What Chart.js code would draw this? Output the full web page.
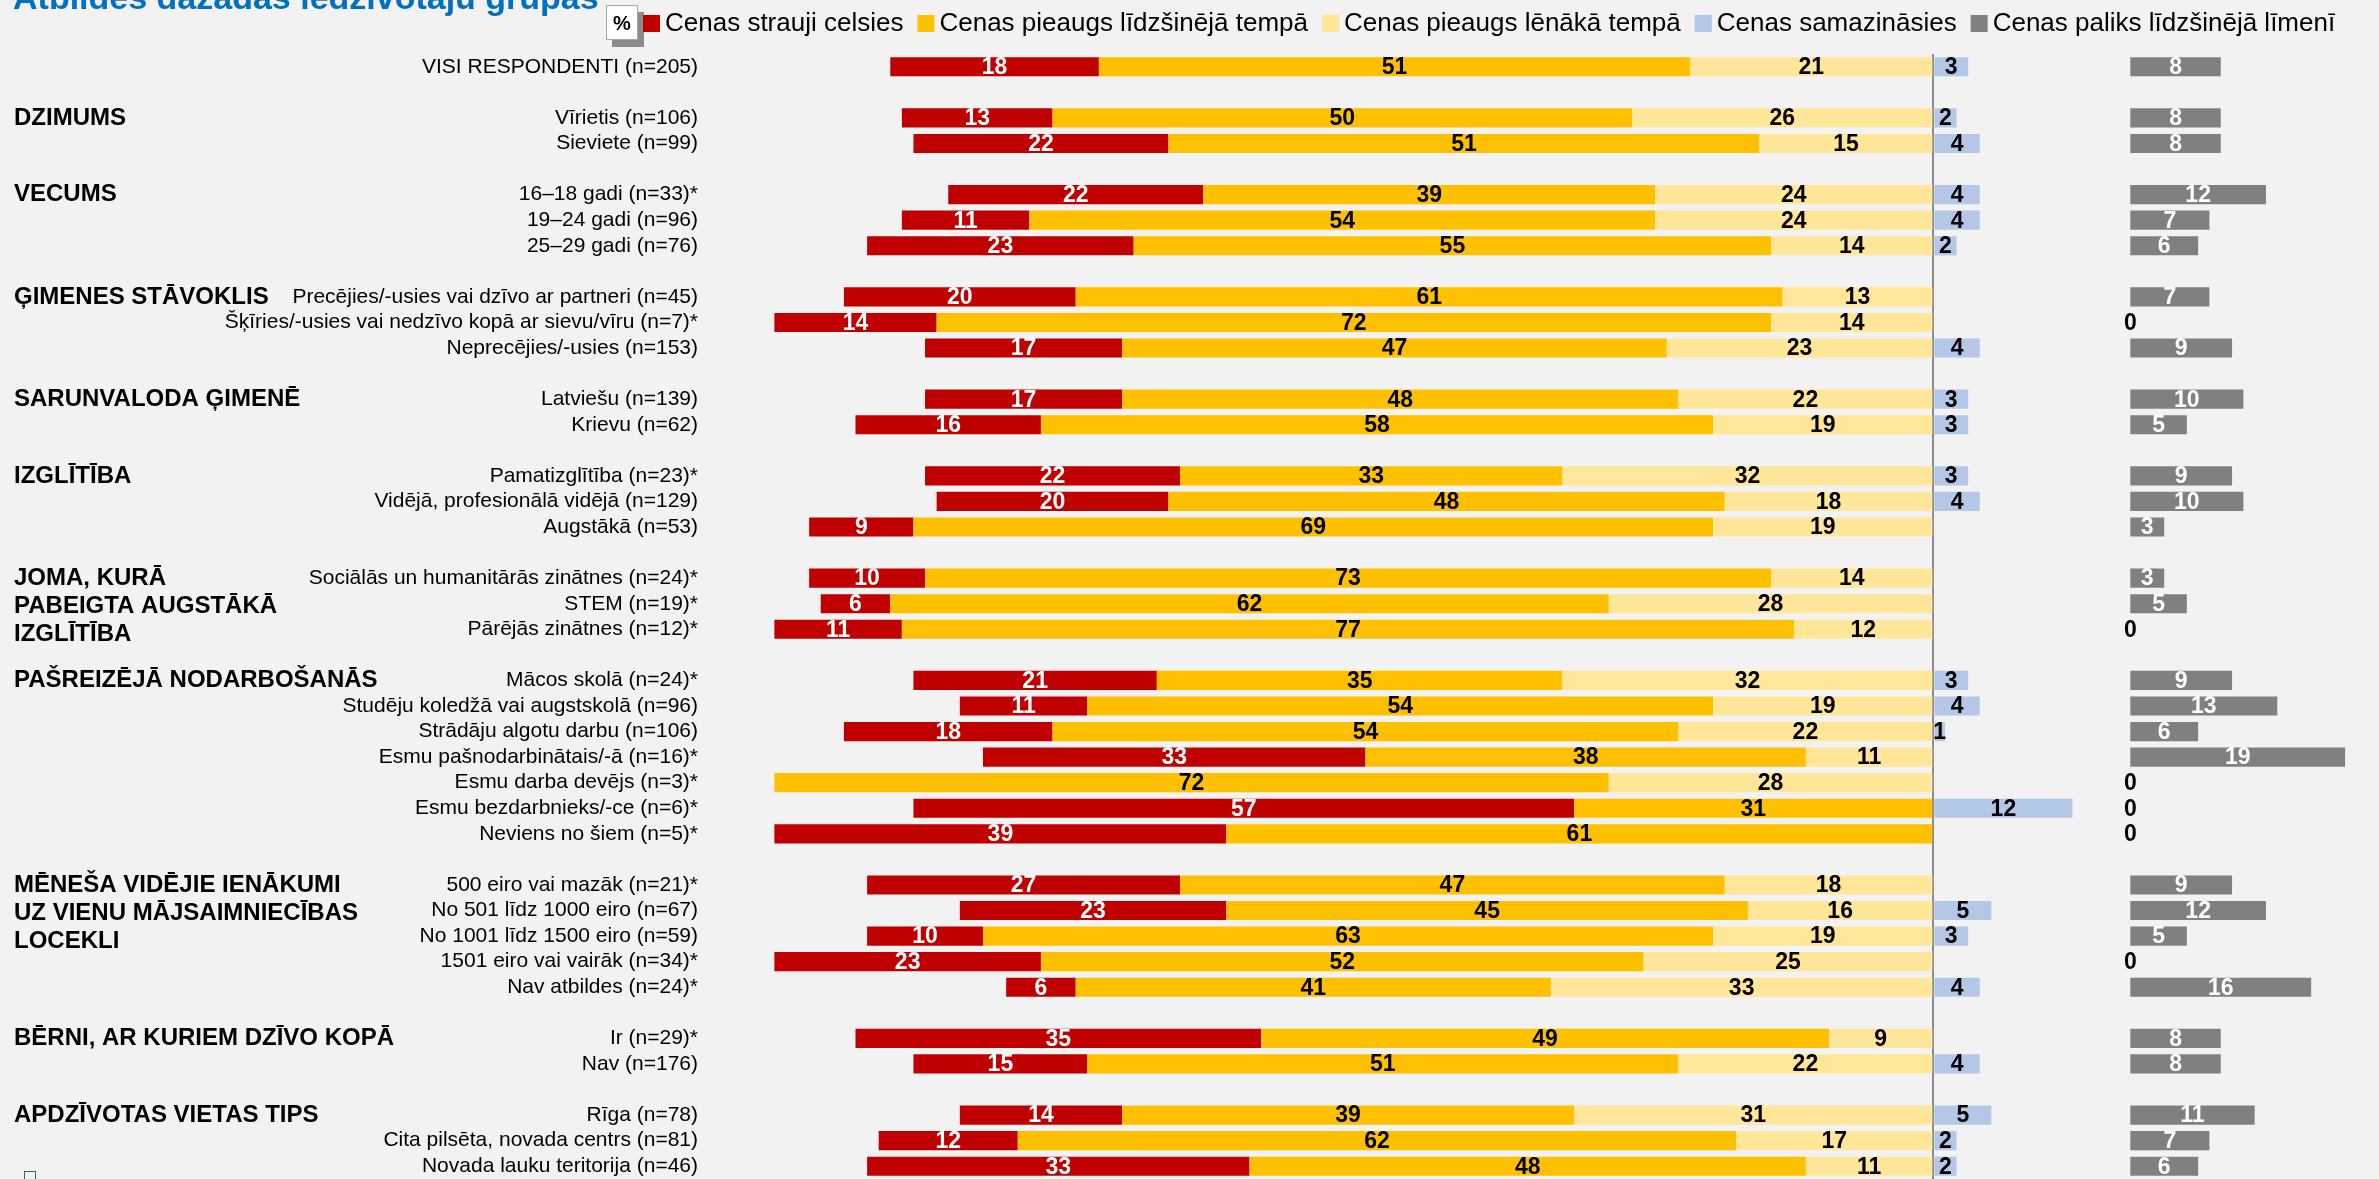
<!DOCTYPE html>
<html>
<head>
<meta charset="utf-8">
<script src="https://cdn.jsdelivr.net/npm/chart.js@4.4.1/dist/chart.umd.min.js"></script>
<style>
  html, body { margin: 0; padding: 0; background: #F2F2F2; overflow: hidden; }
</style>
</head>
<body>
<canvas id="chart" width="2379" height="1179"></canvas>
<script>
// kategorijas ('' = tukša rinda starp grupām)
const categories = [
  'VISI RESPONDENTI (n=205)', '',
  'Vīrietis (n=106)', 'Sieviete (n=99)', '',
  '16–18 gadi (n=33)*', '19–24 gadi (n=96)', '25–29 gadi (n=76)', '',
  'Precējies/-usies vai dzīvo ar partneri (n=45)', 'Šķīries/-usies vai nedzīvo kopā ar sievu/vīru (n=7)*', 'Neprecējies/-usies (n=153)', '',
  'Latviešu (n=139)', 'Krievu (n=62)', '',
  'Pamatizglītība (n=23)*', 'Vidējā, profesionālā vidējā (n=129)', 'Augstākā (n=53)', '',
  'Sociālās un humanitārās zinātnes (n=24)*', 'STEM (n=19)*', 'Pārējās zinātnes (n=12)*', '',
  'Mācos skolā (n=24)*', 'Studēju koledžā vai augstskolā (n=96)', 'Strādāju algotu darbu (n=106)', 'Esmu pašnodarbinātais/-ā (n=16)*', 'Esmu darba devējs (n=3)*', 'Esmu bezdarbnieks/-ce (n=6)*', 'Neviens no šiem (n=5)*', '',
  '500 eiro vai mazāk (n=21)*', 'No 501 līdz 1000 eiro (n=67)', 'No 1001 līdz 1500 eiro (n=59)', '1501 eiro vai vairāk (n=34)*', 'Nav atbildes (n=24)*', '',
  'Ir (n=29)*', 'Nav (n=176)', '',
  'Rīga (n=78)', 'Cita pilsēta, novada centrs (n=81)', 'Novada lauku teritorija (n=46)'
];

// vērtības, %
const strauji = [18, null, 13, 22, null, 22, 11, 23, null, 20, 14, 17, null, 17, 16, null, 22, 20, 9, null, 10, 6, 11, null, 21, 11, 18, 33, null, 57, 39, null, 27, 23, 10, 23, 6, null, 35, 15, null, 14, 12, 33];
const lidzsinejaTempa = [51, null, 50, 51, null, 39, 54, 55, null, 61, 72, 47, null, 48, 58, null, 33, 48, 69, null, 73, 62, 77, null, 35, 54, 54, 38, 72, 31, 61, null, 47, 45, 63, 52, 41, null, 49, 51, null, 39, 62, 48];
const lenakaTempa = [21, null, 26, 15, null, 24, 24, 14, null, 13, 14, 23, null, 22, 19, null, 32, 18, 19, null, 14, 28, 12, null, 32, 19, 22, 11, 28, null, null, null, 18, 16, 19, 25, 33, null, 9, 22, null, 31, 17, 11];
const samazinasies = [3, null, 2, 4, null, 4, 4, 2, null, null, null, 4, null, 3, 3, null, 3, 4, null, null, null, null, null, null, 3, 4, 1, null, null, 12, null, null, null, 5, 3, null, 4, null, null, 4, null, 5, 2, 2];
const paliksLimeni = [8, null, 8, 8, null, 12, 7, 6, null, 7, 0, 9, null, 10, 5, null, 9, 10, 3, null, 3, 5, 0, null, 9, 13, 6, 19, 0, 0, 0, null, 9, 12, 5, 0, 16, null, 8, 8, null, 11, 7, 6];

// grupu virsraksti kreisajā pusē
const groupHeaders = [
  { row: 'Vīrietis (n=106)', lines: ['DZIMUMS'] },
  { row: '16–18 gadi (n=33)*', lines: ['VECUMS'] },
  { row: 'Precējies/-usies vai dzīvo ar partneri (n=45)', lines: ['ĢIMENES STĀVOKLIS'] },
  { row: 'Latviešu (n=139)', lines: ['SARUNVALODA ĢIMENĒ'] },
  { row: 'Pamatizglītība (n=23)*', lines: ['IZGLĪTĪBA'] },
  { row: 'Sociālās un humanitārās zinātnes (n=24)*', lines: ['JOMA, KURĀ', 'PABEIGTA AUGSTĀKĀ', 'IZGLĪTĪBA'] },
  { row: 'Mācos skolā (n=24)*', lines: ['PAŠREIZĒJĀ NODARBOŠANĀS'] },
  { row: '500 eiro vai mazāk (n=21)*', lines: ['MĒNEŠA VIDĒJIE IENĀKUMI', 'UZ VIENU MĀJSAIMNIECĪBAS', 'LOCEKLI'] },
  { row: 'Ir (n=29)*', lines: ['BĒRNI, AR KURIEM DZĪVO KOPĀ'] },
  { row: 'Rīga (n=78)', lines: ['APDZĪVOTAS VIETAS TIPS'] }
];

const FONT = '"Liberation Sans", Arial, sans-serif';
const neg = (arr) => arr.map(v => (v === null ? null : -v));

// vērtību uzraksti joslu vidū
const valueLabels = {
  id: 'valueLabels',
  afterDatasetsDraw(chart) {
    const ctx = chart.ctx;
    ctx.save();
    ctx.font = 'bold 23px ' + FONT;
    ctx.textAlign = 'center';
    ctx.textBaseline = 'middle';
    chart.data.datasets.forEach((ds, i) => {
      chart.getDatasetMeta(i).data.forEach((bar, j) => {
        const v = ds.data[j];
        if (v === null || v === undefined) return;
        const p = bar.getProps(['x', 'y', 'base'], true);
        ctx.fillStyle = v === 0 ? '#000' : ds.labelColor;
        ctx.fillText(Math.abs(v), (p.x + p.base) / 2, p.y + 1);
      });
    });
    ctx.restore();
  }
};

// virsraksts, % lodziņš, leģenda, grupu nosaukumi
const decorations = {
  id: 'decorations',
  afterDraw(chart) {
    const ctx = chart.ctx;
    ctx.save();

    ctx.fillStyle = '#0070C0';
    ctx.font = 'bold 34px ' + FONT;
    ctx.textBaseline = 'alphabetic';
    ctx.fillText('Atbildes dažādās iedzīvotāju grupās', 13, 9);

    // % lodziņš
    ctx.fillStyle = '#8C8C8C';
    ctx.fillRect(612, 12, 32, 35);
    ctx.fillStyle = '#fff';
    ctx.fillRect(606, 5, 32, 35);
    ctx.strokeStyle = '#A6A6A6';
    ctx.lineWidth = 1;
    ctx.strokeRect(606.5, 5.5, 31, 34);
    ctx.fillStyle = '#000';
    ctx.font = 'bold 20px ' + FONT;
    ctx.textAlign = 'center';
    ctx.textBaseline = 'middle';
    ctx.fillText('%', 622, 24);

    // leģenda
    ctx.textAlign = 'left';
    ctx.font = '26px ' + FONT;
    let x = 643;
    chart.data.datasets.slice().sort((a, b) => a.legendPos - b.legendPos).forEach(ds => {
      ctx.fillStyle = ds.backgroundColor;
      ctx.fillRect(x, 15, 17, 17);
      ctx.fillStyle = '#000';
      ctx.fillText(ds.label, x + 22, 24);
      x += 22 + ctx.measureText(ds.label).width + 14;
    });

    // grupu nosaukumi
    const yScale = chart.scales.y;
    ctx.font = 'bold 24px ' + FONT;
    groupHeaders.forEach(h => {
      const y0 = yScale.getPixelForValue(categories.indexOf(h.row));
      h.lines.forEach((line, k) => ctx.fillText(line, 14, y0 + k * 28));
    });

    ctx.strokeStyle = '#2E6B4F';
    ctx.strokeRect(24.5, 1171.5, 11, 12);
    ctx.restore();
  }
};

new Chart(document.getElementById('chart'), {
  type: 'bar',
  data: {
    labels: categories,
    datasets: [
      { label: 'Cenas strauji celsies', data: neg(strauji), backgroundColor: '#C00000', labelColor: '#fff', order: 3, legendPos: 0 },
      { label: 'Cenas pieaugs līdzšinējā tempā', data: neg(lidzsinejaTempa), backgroundColor: '#FFC000', labelColor: '#000', order: 2, legendPos: 1 },
      { label: 'Cenas pieaugs lēnākā tempā', data: neg(lenakaTempa), backgroundColor: '#FFE699', labelColor: '#000', order: 1, legendPos: 2 },
      { label: 'Cenas samazināsies', data: samazinasies, backgroundColor: '#B4C7E7', labelColor: '#000', order: 0, legendPos: 3 },
      { label: 'Cenas paliks līdzšinējā līmenī', data: paliksLimeni, backgroundColor: '#808080', labelColor: '#fff', order: 4, legendPos: 4, xAxisID: 'x2' }
    ]
  },
  options: {
    responsive: false,
    animation: false,
    indexAxis: 'y',
    barPercentage: 0.75,
    categoryPercentage: 1,
    layout: { padding: { top: 54, right: 0, bottom: 0, left: 0 } },
    plugins: {
      legend: { display: false },
      tooltip: { enabled: false }
    },
    scales: {
      y: {
        stacked: true,
        grid: { display: false, drawTicks: false },
        border: { display: false },
        ticks: { autoSkip: false, padding: 8, color: '#000', font: { family: FONT, size: 21 } },
        afterFit: (s) => { s.width = 706; s.paddingTop = 0; s.paddingBottom = 0; }
      },
      x: {
        stacked: true,
        min: -105.9,
        max: 38.45,
        ticks: { display: false },
        grid: { color: '#8C8C8C', lineWidth: 2, drawTicks: false },
        border: { display: false },
        afterBuildTicks: (s) => { s.ticks = [{ value: 0 }]; },
        afterFit: (s) => { s.height = 0; }
      },
      x2: {
        type: 'linear',
        axis: 'x',
        position: 'bottom',
        stacked: true,
        display: false,
        min: -126,
        max: 22
      }
    }
  },
  plugins: [valueLabels, decorations]
});
</script>
</body>
</html>
